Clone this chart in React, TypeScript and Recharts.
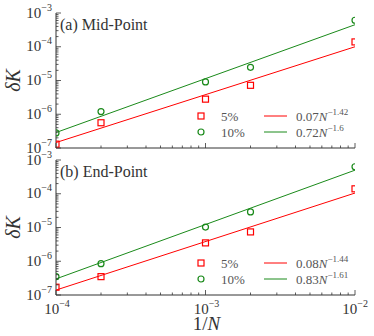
import { ComposedChart, Scatter, XAxis, YAxis, Legend } from 'recharts';

// 1/N sample points
const xValues = [1e-4, 2e-4, 1e-3, 2e-3, 1e-2];

// (a) Mid-Point
const midRed = [1.3e-7, 5.6e-7, 2.8e-6, 7.2e-6, 1.39e-4];
const midGreen = [2.8e-7, 1.2e-6, 9.1e-6, 2.46e-5, 6.1e-4];
// (b) End-Point
const endRed = [1.7e-7, 3.5e-7, 3.5e-6, 7.4e-6, 1.4e-4];
const endGreen = [3.5e-7, 8.5e-7, 1.03e-5, 2.9e-5, 6.3e-4];

// fit lines, end points
const fitX = [1e-4, 1e-2];
const midRedFit = [1.45e-7, 1.0e-4];
const midGreenFit = [2.87e-7, 4.5e-4];
const endRedFit = [1.4e-7, 1.05e-4];
const endGreenFit = [3.0e-7, 5.0e-4];

const fitCoefA = ['0.07', '0.72'];
const fitExpA = ['−1.42', '−1.6'];
const fitCoefB = ['0.08', '0.83'];
const fitExpB = ['−1.44', '−1.61'];
const seriesNames = ['5%', '10%'];

// ticks
const xMajor = [1e-4, 1e-3, 1e-2];
const xMajorLabels = ['−4', '−3', '−2'];
const yMajor = [1e-7, 1e-6, 1e-5, 1e-4, 1e-3];
const yMajorLabels = ['−7', '−6', '−5', '−4', '−3'];
const minorSteps = [2, 3, 4, 5, 6, 7, 8, 9];

const withMinor = (majors: number[]) => {
  const out: number[] = [...majors];
  majors.slice(0, -1).forEach(m => minorSteps.forEach(s => out.push(m * s)));
  return out.sort((a, b) => a - b);
};
const xTicks = withMinor(xMajor);
const yTicks = withMinor(yMajor);

const RED = '#ff0000';
const GREEN = '#1a8a1a';
const FRAME = '#333';
const TEXT = '#333';
const FONT = "'Liberation Serif', serif";

const toPts = (xs: number[], ys: number[]) => xs.map((x, i) => ({ x, y: ys[i] }));

const findMajor = (v: number, majors: number[]) =>
  majors.findIndex(m => Math.abs(m - v) / m < 1e-6);

type Side = 'left' | 'right' | 'top' | 'bottom';

const makeTick = (side: Side, majors: number[], labels: string[] | null) => (props: any) => {
  const { x, y, payload } = props;
  const idx = findMajor(payload.value, majors);
  const len = idx >= 0 ? 5 : 2.5;
  let x2 = x, y2 = y;
  if (side === 'left') x2 = x + len;
  if (side === 'right') x2 = x - len;
  if (side === 'top') y2 = y + len;
  if (side === 'bottom') y2 = y - len;
  let label = null;
  if (labels && idx >= 0) {
    if (side === 'left') {
      label = (
        <text x={x - 4} y={y + 4.5} textAnchor="end" fill={TEXT} fontFamily={FONT} fontSize={15}>
          10<tspan dy={-7} fontSize={10}>{labels[idx]}</tspan>
        </text>
      );
    } else if (side === 'bottom') {
      const last = idx === majors.length - 1;
      label = (
        <text x={last ? x + 13 : x + 1} y={y + 19} textAnchor={last ? 'end' : 'middle'} fill={TEXT} fontFamily={FONT} fontSize={15}>
          10<tspan dy={-7} fontSize={10}>{labels[idx]}</tspan>
        </text>
      );
    }
  }
  return (
    <g>
      <line x1={x} y1={y} x2={x2} y2={y2} stroke={FRAME} strokeWidth={0.8} />
      {label}
    </g>
  );
};

const Square = (p: any) => (
  <rect x={p.cx - 3} y={p.cy - 3} width={6} height={6} fill="none" stroke={RED} strokeWidth={1.2} />
);
const Ring = (p: any) => (
  <circle cx={p.cx} cy={p.cy} r={3} fill="none" stroke={GREEN} strokeWidth={1.2} />
);
const NoDot = () => <g />;

const FitLegend = ({ coefs, exps }: { coefs: string[]; exps: string[] }) => (
  <svg width={180} height={40} style={{ display: 'block' }}>
    <rect x={8} y={7} width={6} height={6} fill="none" stroke={RED} strokeWidth={1.2} />
    <circle cx={11} cy={26} r={3} fill="none" stroke={GREEN} strokeWidth={1.2} />
    {seriesNames.map((n, i) => (
      <text key={n} x={31} y={15 + i * 16} fill="#555" fontFamily={FONT} fontSize={13}>{n}</text>
    ))}
    <line x1={74} y1={10} x2={97} y2={10} stroke={RED} strokeWidth={1} />
    <line x1={74} y1={26} x2={97} y2={26} stroke={GREEN} strokeWidth={1} />
    {coefs.map((c, i) => (
      <text key={c} x={106} y={15 + i * 16} fill="#555" fontFamily={FONT} fontSize={13}>
        {c}<tspan fontStyle="italic">N</tspan><tspan dy={-6} fontSize={9}>{exps[i]}</tspan>
      </text>
    ))}
  </svg>
);

interface PanelProps {
  title: string;
  red: number[];
  green: number[];
  redFit: number[];
  greenFit: number[];
  coefs: string[];
  exps: string[];
  height: number;
  marginTop: number;
  bottomAxisHeight: number;
  showX: boolean;
}

const Panel = (p: PanelProps) => {
  const plotTop = p.marginTop;
  return (
    <ComposedChart
      width={374}
      height={p.height}
      margin={{ top: p.marginTop, right: 19, bottom: 0, left: 0 }}
      style={{ fontFamily: FONT }}
    >
      <XAxis
        dataKey="x"
        type="number"
        scale="log"
        domain={[1e-4, 1e-2]}
        allowDataOverflow
        ticks={xTicks}
        interval={0}
        height={p.bottomAxisHeight}
        tickLine={false}
        tickSize={0}
        tickMargin={0}
        axisLine={{ stroke: FRAME }}
        tick={makeTick('bottom', xMajor, p.showX ? xMajorLabels : null)}
        label={p.showX ? {
          content: (lp: any) => {
            const vb = lp.viewBox;
            return (
              <text x={vb.x + vb.width / 2 + 1} y={vb.y + 35} textAnchor="middle" fill={TEXT} fontFamily={FONT} fontSize={19}>
                1/<tspan fontStyle="italic">N</tspan>
              </text>
            );
          },
        } : undefined}
      />
      <XAxis
        xAxisId="top"
        orientation="top"
        dataKey="x"
        type="number"
        scale="log"
        domain={[1e-4, 1e-2]}
        allowDataOverflow
        ticks={xTicks}
        interval={0}
        height={0}
        tickLine={false}
        tickSize={0}
        tickMargin={0}
        axisLine={{ stroke: FRAME }}
        tick={makeTick('top', xMajor, null)}
      />
      <YAxis
        dataKey="y"
        type="number"
        scale="log"
        domain={[1e-7, 1e-3]}
        allowDataOverflow
        ticks={yTicks}
        interval={0}
        width={56}
        tickLine={false}
        tickSize={0}
        tickMargin={0}
        axisLine={{ stroke: FRAME }}
        tick={makeTick('left', yMajor, yMajorLabels)}
        label={{
          content: (lp: any) => {
            const vb = lp.viewBox;
            const cy = vb.y + vb.height / 2;
            return (
              <text x={20} y={cy} transform={`rotate(-90 20 ${cy})`} textAnchor="middle" fill={TEXT} fontFamily={FONT} fontSize={20} fontStyle="italic">
                δK
              </text>
            );
          },
        }}
      />
      <YAxis
        yAxisId="right"
        orientation="right"
        dataKey="y"
        type="number"
        scale="log"
        domain={[1e-7, 1e-3]}
        allowDataOverflow
        ticks={yTicks}
        interval={0}
        width={0}
        tickLine={false}
        tickSize={0}
        tickMargin={0}
        axisLine={{ stroke: FRAME }}
        tick={makeTick('right', yMajor, null)}
      />
      <Scatter data={toPts(fitX, p.redFit)} line={{ stroke: RED, strokeWidth: 1 }} shape={NoDot} legendType="none" isAnimationActive={false} />
      <Scatter data={toPts(fitX, p.greenFit)} line={{ stroke: GREEN, strokeWidth: 1 }} shape={NoDot} legendType="none" isAnimationActive={false} />
      <Scatter data={toPts(xValues, p.red)} shape={Square} isAnimationActive={false} />
      <Scatter data={toPts(xValues, p.green)} shape={Ring} isAnimationActive={false} />
      <Legend
        layout="vertical"
        align="center"
        verticalAlign="middle"
        wrapperStyle={{ position: 'absolute', left: 190, top: plotTop + 93, width: 180, height: 40 }}
        content={() => <FitLegend coefs={p.coefs} exps={p.exps} />}
      />
      <text x={60} y={plotTop + 17} fill={TEXT} fontFamily={FONT} fontSize={16}>{p.title}</text>
    </ComposedChart>
  );
};

export default function App() {
  return (
    <div style={{ position: 'absolute', left: 0, top: 0, width: 374, height: 336, background: '#fff' }}>
      <style>{'.recharts-surface { overflow: visible; } .recharts-wrapper { overflow: visible; }'}</style>
      <Panel
        title="(a) Mid-Point"
        red={midRed}
        green={midGreen}
        redFit={midRedFit}
        greenFit={midGreenFit}
        coefs={fitCoefA}
        exps={fitExpA}
        height={154}
        marginTop={13}
        bottomAxisHeight={6}
        showX={false}
      />
      <Panel
        title="(b) End-Point"
        red={endRed}
        green={endGreen}
        redFit={endRedFit}
        greenFit={endGreenFit}
        coefs={fitCoefB}
        exps={fitExpB}
        height={182}
        marginTop={6}
        bottomAxisHeight={41}
        showX={true}
      />
    </div>
  );
}
